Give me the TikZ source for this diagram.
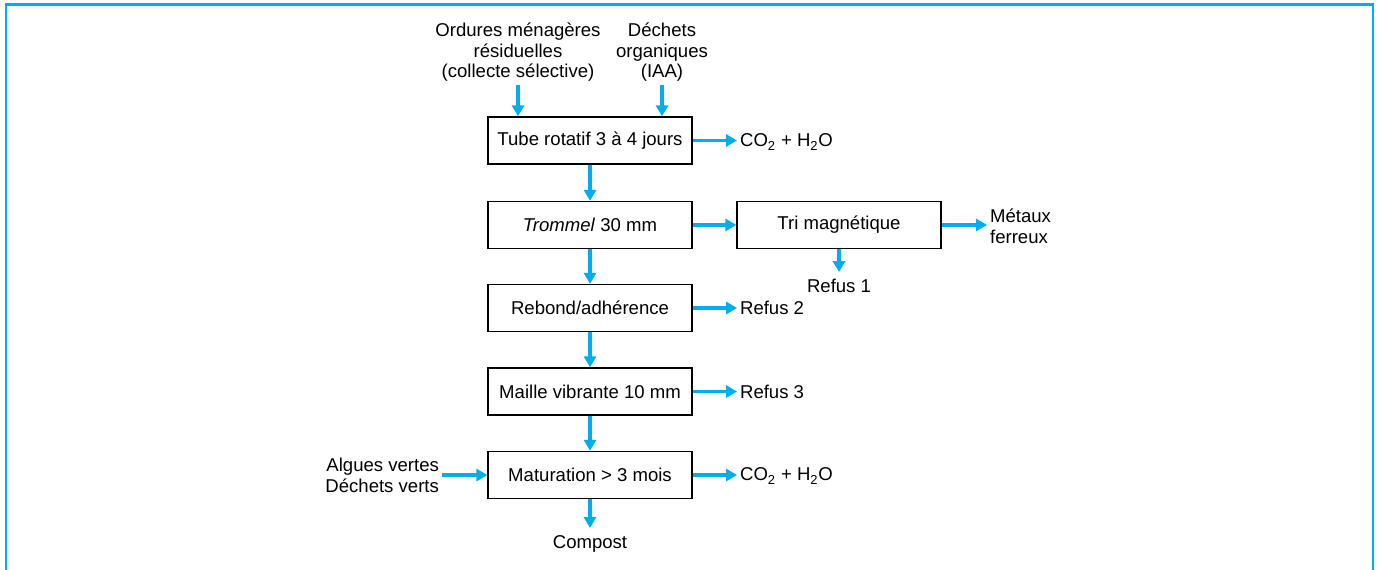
\documentclass[tikz,border=0pt]{standalone}
\usepackage{fontspec}
\setmainfont{Liberation Sans}
\usepackage{xcolor}
\definecolor{flowcyan}{RGB}{0,174,239}
\usetikzlibrary{arrows.meta, positioning}

\begin{document}
\begin{tikzpicture}[x=0.025cm, y=-0.025cm,
    every node/.style={font=\fontsize{13.2}{14.8}\selectfont, inner sep=2pt},
    stage/.style={draw=black, line width=0.9pt, minimum width=5.1cm, minimum height=1.18cm},
    flow/.style={flowcyan, line width=2.6pt, -{Triangle[length=7.8pt, width=8.6pt]}}]
  % Frame and page size
  \useasboundingbox (0,0) rectangle (1379,570);
  \draw[flowcyan, line width=1.5pt] (6,570) -- (6,4.5) -- (1373,4.5) -- (1373,570);

  % --- Main line of stages ---
  \node[stage] (tube)    at (590,140.5) {Tube rotatif 3 à 4 jours};
  \node[stage] (trommel) at (590,225)   {\textit{Trommel} 30 mm};
  \node[stage] (rebond)  at (590,308)   {Rebond/adhérence};
  \node[stage] (maille)  at (590,391.5) {Maille vibrante 10 mm};
  \node[stage] (matur)   at (590,475)   {Maturation > 3 mois};
  \node[stage] (tri)     at (839,225)   {Tri magnétique};

  % --- Inputs ---
  \node[anchor=north, align=center] (ordures) at (518,19.5)
       {Ordures ménagères\\résiduelles\\(collecte sélective)};
  \node[anchor=north, align=center] (iaa) at (662,19.5)
       {Déchets\\organiques\\(IAA)};
  \node[anchor=east, align=right] (algues) at (442,475)
       {Algues vertes\\Déchets verts};

  % --- Outputs ---
  \node[anchor=west] (co2a) at (737,142) {CO\textsubscript{2} + H\textsubscript{2}O};
  \node[anchor=west, align=left] (metaux) at (987,226) {Métaux\\ferreux};
  \node[anchor=north, inner ysep=4.8pt] (refus1) at (839,272) {Refus 1};
  \node[anchor=west] (refus2) at (737,308) {Refus 2};
  \node[anchor=west] (refus3) at (737,392) {Refus 3};
  \node[anchor=west] (co2b) at (737,476) {CO\textsubscript{2} + H\textsubscript{2}O};
  \node[anchor=north, inner ysep=5.5pt] (compost) at (590,528) {Compost};

  % --- Flows ---
  \draw[flow] (ordures.south) -- (ordures.south |- tube.north);
  \draw[flow] (iaa.south) -- (iaa.south |- tube.north);
  \draw[flow] (tube) -- (trommel);
  \draw[flow] (trommel) -- (rebond);
  \draw[flow] (rebond) -- (maille);
  \draw[flow] (maille) -- (matur);
  \draw[flow] (matur) -- (compost);
  \draw[flow] (tube.east) -- (tube.east -| co2a.west);
  \draw[flow] (trommel) -- (tri);
  \draw[flow] (tri.east) -- (tri.east -| metaux.west);
  \draw[flow] (tri) -- (refus1);
  \draw[flow] (rebond.east) -- (rebond.east -| refus2.west);
  \draw[flow] (maille.east) -- (maille.east -| refus3.west);
  \draw[flow] (matur.east) -- (matur.east -| co2b.west);
  \draw[flow] (algues.east |- matur.west) -- (matur.west);
\end{tikzpicture}
\end{document}
